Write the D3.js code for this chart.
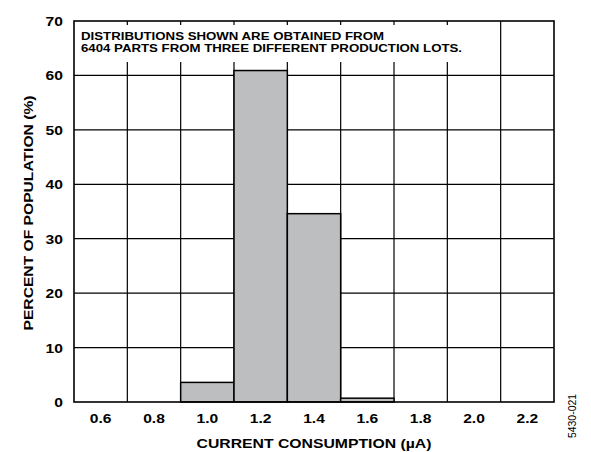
<!DOCTYPE html>
<html>
<head>
<meta charset="utf-8">
<script src="https://cdn.jsdelivr.net/npm/d3@7"></script>
<style>
body { margin: 0; background: #fff; }
text { font-family: "Liberation Sans", Arial, sans-serif; }
</style>
</head>
<body>
<script>
// histogram bins (center of each bin, uA) and percent of population
var binCenters = [0.6, 0.8, 1.0, 1.2, 1.4, 1.6, 1.8, 2.0, 2.2];
var percents = [0, 0, 3.6, 60.9, 34.6, 0.7, 0, 0, 0];
var xTickLabels = ["0.6", "0.8", "1.0", "1.2", "1.4", "1.6", "1.8", "2.0", "2.2"];
var yTicks = [0, 10, 20, 30, 40, 50, 60, 70];
var noteLines = ["DISTRIBUTIONS SHOWN ARE OBTAINED FROM",
                 "6404 PARTS FROM THREE DIFFERENT PRODUCTION LOTS."];

var width = 591, height = 452;
var pLeft = 74, pRight = 554, pTop = 21, pBottom = 402;
var binWidth = 0.2;
var stretch = 1.2; // reference glyphs run wider than Liberation Sans

var svg = d3.select("body").append("svg")
    .attr("width", width)
    .attr("height", height);

var x = d3.scaleLinear().domain([0.5, 2.3]).range([pLeft, pRight]);
var y = d3.scaleLinear().domain([0, 70]).range([pBottom, pTop]);

// widen a text to a given length (or by the stretch factor)
function widen(sel, len){
    sel.each(function(){
        var w = len || this.getComputedTextLength() * stretch;
        d3.select(this).attr("textLength", w).attr("lengthAdjust", "spacingAndGlyphs");
    });
}

// vertical grid lines at bin edges
var edges = binCenters.slice(1).map(function(c){ return c - binWidth / 2; });
svg.selectAll(".vgrid")
    .data(edges)
    .enter()
    .append("line")
    .attr("class", "vgrid")
    .attr("x1", function(d){ return x(d); })
    .attr("x2", function(d){ return x(d); })
    .attr("y1", pTop)
    .attr("y2", pBottom)
    .attr("stroke", "#000")
    .attr("stroke-width", 1.2);

// horizontal grid lines
svg.selectAll(".hgrid")
    .data(yTicks.slice(1, -1))
    .enter()
    .append("line")
    .attr("class", "hgrid")
    .attr("x1", pLeft)
    .attr("x2", pRight)
    .attr("y1", function(d){ return y(d); })
    .attr("y2", function(d){ return y(d); })
    .attr("stroke", "#000")
    .attr("stroke-width", 1.2);

// white box behind the note
svg.append("rect")
    .attr("x", pLeft + 1)
    .attr("y", pTop + 4)
    .attr("width", 392)
    .attr("height", 37)
    .attr("fill", "#fff");

// bars
var bins = binCenters.map(function(c, i){ return {c: c, v: percents[i]}; })
    .filter(function(d){ return d.v > 0; });
svg.selectAll(".bar")
    .data(bins)
    .enter()
    .append("rect")
    .attr("class", "bar")
    .attr("x", function(d){ return x(d.c - binWidth / 2); })
    .attr("width", function(d){ return x(d.c + binWidth / 2) - x(d.c - binWidth / 2); })
    .attr("y", function(d){ return y(d.v); })
    .attr("height", function(d){ return pBottom - y(d.v); })
    .attr("fill", "#bdbec0")
    .attr("stroke", "#000")
    .attr("stroke-width", 1.5);

// frame
svg.append("rect")
    .attr("x", pLeft)
    .attr("y", pTop)
    .attr("width", pRight - pLeft)
    .attr("height", pBottom - pTop)
    .attr("fill", "none")
    .attr("stroke", "#000")
    .attr("stroke-width", 1.6);

// note text
var noteLens = [303, 381];
svg.selectAll(".note")
    .data(noteLines)
    .enter()
    .append("text")
    .attr("class", "note")
    .attr("x", 81)
    .attr("y", function(d, i){ return 40 + i * 12; })
    .attr("font-size", "11px")
    .attr("font-weight", "bold")
    .text(function(d){ return d; })
    .each(function(d, i){ widen(d3.select(this), noteLens[i]); });

// y tick labels
svg.selectAll(".ylab")
    .data(yTicks)
    .enter()
    .append("text")
    .attr("class", "ylab")
    .attr("x", 63)
    .attr("y", function(d){ return y(d) + 5; })
    .attr("text-anchor", "end")
    .attr("font-size", "13px")
    .attr("font-weight", "bold")
    .text(function(d){ return d; })
    .call(widen);

// x tick labels
svg.selectAll(".xlab")
    .data(binCenters)
    .enter()
    .append("text")
    .attr("class", "xlab")
    .attr("x", function(d){ return x(d); })
    .attr("y", 423)
    .attr("text-anchor", "middle")
    .attr("font-size", "13px")
    .attr("font-weight", "bold")
    .text(function(d, i){ return xTickLabels[i]; })
    .call(widen);

// axis titles
svg.append("text")
    .attr("x", 314)
    .attr("y", 448)
    .attr("text-anchor", "middle")
    .attr("font-size", "13px")
    .attr("font-weight", "bold")
    .text("CURRENT CONSUMPTION (\u00b5A)")
    .call(widen, 235);

svg.append("text")
    .attr("transform", "translate(33,213) rotate(-90)")
    .attr("text-anchor", "middle")
    .attr("font-size", "13px")
    .attr("font-weight", "bold")
    .text("PERCENT OF POPULATION (%)")
    .call(widen, 235);

// figure id
svg.append("text")
    .attr("transform", "translate(576,416) rotate(-90)")
    .attr("text-anchor", "middle")
    .attr("font-size", "10px")
    .text("5430-021")
    .call(widen, 44);
</script>
</body>
</html>
